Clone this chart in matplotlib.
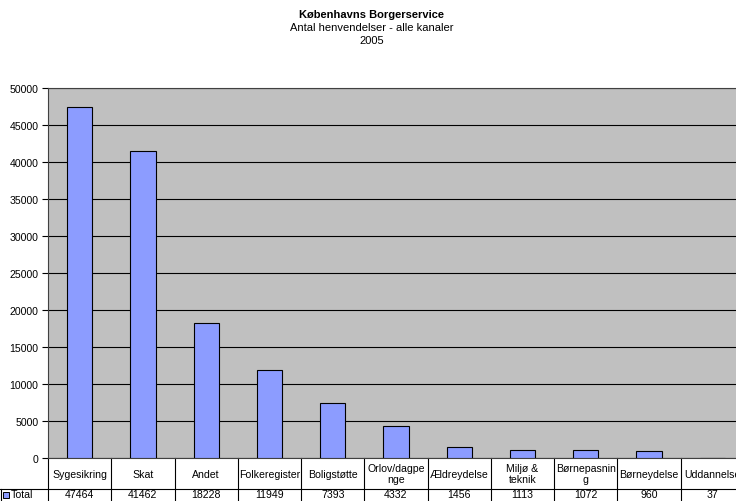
import matplotlib
matplotlib.use("Agg")
import matplotlib.pyplot as plt
from matplotlib.transforms import blended_transform_factory
from matplotlib.patches import Rectangle

plt.rcParams["font.family"] = ["Liberation Sans", "DejaVu Sans"]

# Data
categories = ["Sygesikring", "Skat", "Andet", "Folkeregister", "Boligstøtte",
              "Orlov/dagpe\nnge", "Ældreydelse", "Miljø &\nteknik",
              "Børnepasnin\ng", "Børneydelse", "Uddannelse"]
totals = [47464, 41462, 18228, 11949, 7393, 4332, 1456, 1113, 1072, 960, 37]
yticks = list(range(0, 50001, 5000))

BAR = "#8C9CFF"
PLOT_BG = "#C0C0C0"
FS = 7.6

W, H = 736, 502
fig = plt.figure(figsize=(W / 100, H / 100), dpi=100)
fig.patch.set_facecolor("white")

# Plot area (right side runs past the picture edge, as in the reference)
left_px, right_px, top_px, bottom_px = 48, 744, 89, 459
ax = fig.add_axes([left_px / W, (H - bottom_px) / H,
                   (right_px - left_px) / W, (bottom_px - top_px) / H])
ax.set_facecolor(PLOT_BG)

x = list(range(len(categories)))
ax.bar(x, totals, width=0.4, color=BAR, edgecolor="black", linewidth=0.8, zorder=3)

ax.set_xlim(-0.5, len(categories) - 0.5)
ax.set_ylim(0, 50000)
ax.set_yticks(yticks)
ax.set_yticklabels([str(v) for v in yticks], fontsize=FS)
ax.set_xticks([])
ax.tick_params(axis="y", direction="out", length=4, width=0.8, pad=3)
ax.grid(axis="y", color="black", linewidth=0.8, zorder=1)
ax.set_axisbelow(True)
for s in ax.spines.values():
    s.set_color("#404040")
    s.set_linewidth(0.8)

# Titles
fig.text(0.505, 1 - 15 / H, "Københavns Borgerservice", ha="center", va="center",
         fontsize=8, fontweight="bold")
fig.text(0.505, 1 - 28 / H, "Antal henvendelser - alle kanaler", ha="center",
         va="center", fontsize=8)
fig.text(0.505, 1 - 41 / H, "2005", ha="center", va="center", fontsize=8)

# Data table below the plot
tr = blended_transform_factory(ax.transData, fig.transFigure)
def fy(px):
    return 1 - px / H

row_split = 490
for i in range(len(categories) + 1):
    xb = i - 0.5
    ax.plot([xb, xb], [fy(bottom_px), fy(H + 2)], color="black", lw=0.8,
            transform=tr, clip_on=False)
fig.add_artist(plt.Line2D([0, 1], [fy(row_split), fy(row_split)],
                          color="black", lw=0.8, transform=fig.transFigure))
fig.add_artist(plt.Line2D([0.5 / W, 0.5 / W], [fy(row_split), 0],
                          color="black", lw=0.8, transform=fig.transFigure))

for i, (cat, val) in enumerate(zip(categories, totals)):
    ax.text(i, fy((bottom_px + row_split) / 2), cat, transform=tr, ha="center",
            va="center", fontsize=FS, linespacing=1.1, clip_on=False)
    ax.text(i, fy(495), str(val), transform=tr, ha="center", va="center",
            fontsize=FS, clip_on=False)

fig.add_artist(Rectangle((3 / W, fy(499)), 6 / W, 6 / H, transform=fig.transFigure,
                         facecolor=BAR, edgecolor="black", linewidth=0.7))
fig.text(11 / W, fy(495), "Total", ha="left", va="center", fontsize=FS)

fig.savefig("out.png", dpi=100, facecolor="white")
